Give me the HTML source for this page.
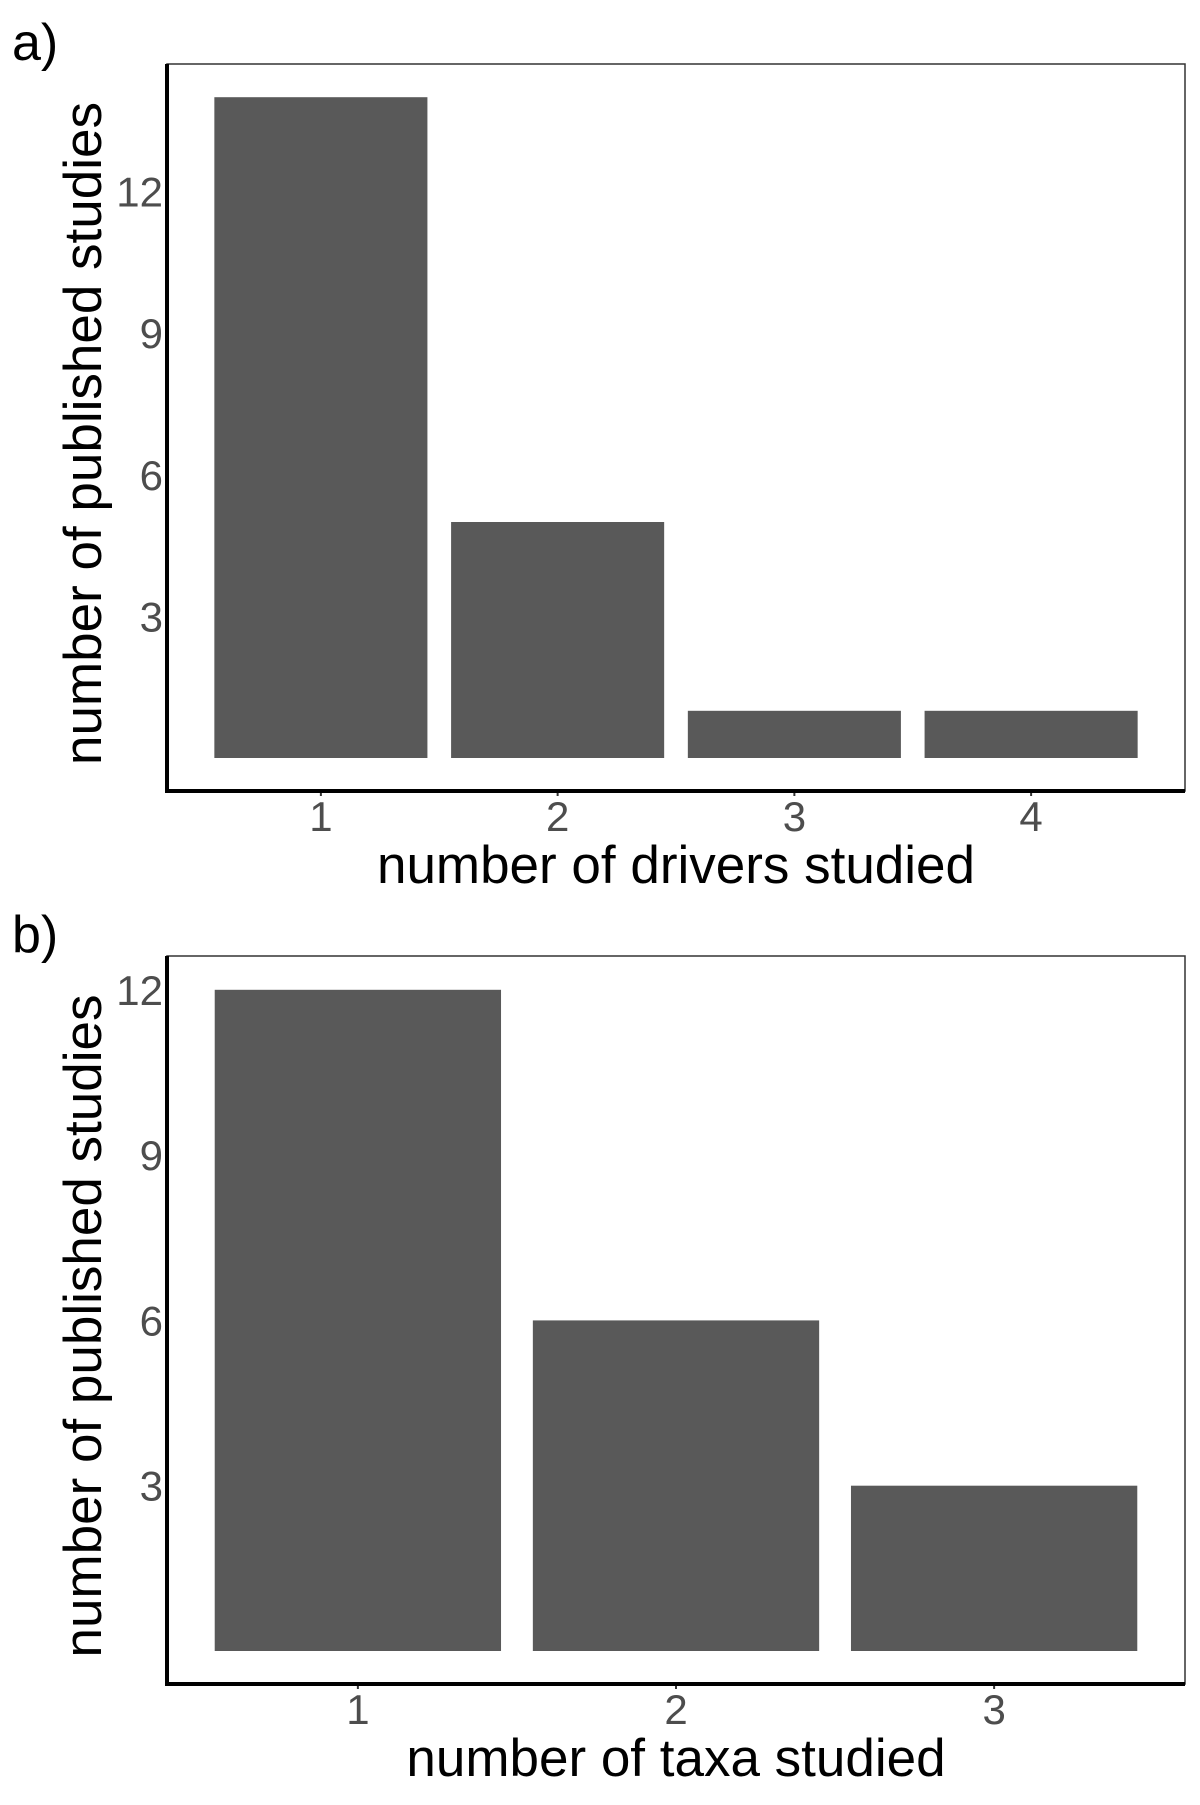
<!DOCTYPE html>
<html><head><meta charset="utf-8"><style>
html,body{margin:0;padding:0;background:#fff;}
svg text{font-family:"Liberation Sans",Arial,sans-serif;}
</style></head><body>
<svg id="chart" width="1200" height="1800" viewBox="0 0 1200 1800" xmlns="http://www.w3.org/2000/svg"></svg>
<script>
const catsA = ["1","2","3","4"];
const valsA = [14,5,1,1];
const catsB = ["1","2","3"];
const valsB = [12,6,3];
const yTicks = [3,6,9,12];
const NS="http://www.w3.org/2000/svg";
const svg=document.getElementById('chart');
function mk(tag,attrs,parent){const e=document.createElementNS(NS,tag);for(const k in attrs)e.setAttribute(k,attrs[k]);(parent||svg).appendChild(e);return e;}
function panel(opts){
  const g=mk('g',{});
  
  
  const L=167,R=1185,T=opts.top,B=opts.axisY;
  const base=opts.base, unit=opts.unit;
  const y=v=>base-v*unit;
  const n=opts.cats.length;
  const pad=opts.pad;
  const step=(R-L)/(n-1+2*pad);
  const x=i=>L+step*(pad+i);
  const border=mk('rect',{x:L,y:T,width:R-L,height:B-T,fill:'none',stroke:'#333',"stroke-width":1.5},g);
  
  
  yTicks.forEach(t=>{
    const tx=mk('text',{x:L-4,y:y(t)+15,"text-anchor":"end","font-size":42,fill:'#4d4d4d'},g);
    tx.textContent=t;
    
    
  });
  opts.vals.forEach((v,i)=>{
    const r=mk('rect',{x:x(i)-step*0.45,y:y(v),width:step*0.9,height:v*unit,fill:'#595959'},g);
    
    
    const tx=mk('text',{x:x(i),y:B+40,"text-anchor":"middle","font-size":42,fill:'#4d4d4d'},g);
    tx.textContent=opts.cats[i];
    
    
    mk('line',{x1:x(i),x2:x(i),y1:B,y2:B+5,stroke:'#333',"stroke-width":2},g);
  });
  const ya=mk('line',{x1:L,x2:L,y1:T,y2:B+2,stroke:'#000',"stroke-width":4},g);
  
  
  const xa=mk('line',{x1:L-2,x2:R,y1:B,y2:B,stroke:'#000',"stroke-width":4},g);
  
  
  const xt=mk('text',{x:(L+R)/2,y:B+92,"text-anchor":"middle","font-size":53,fill:'#000'},g);
  xt.textContent=opts.xTitle;
  
  
  const cy=(T+B)/2+6;
  const yt=mk('text',{x:0,y:0,"text-anchor":"middle","font-size":53,fill:'#000',transform:`translate(101,${cy}) rotate(-90)`},g);
  yt.textContent='number of published studies';
  
  
  const pl=mk('text',{x:12,y:T-4,"font-size":52,fill:'#000'},g);
  pl.textContent=opts.label;
  
  
}
panel({name:'panel-a',label:'a)',top:64,axisY:791,base:758,unit:47.2,pad:0.65,cats:catsA,vals:valsA,xTitle:'number of drivers studied'});
panel({name:'panel-b',label:'b)',top:956,axisY:1684,base:1651,unit:55.1,pad:0.6,cats:catsB,vals:valsB,xTitle:'number of taxa studied'});
</script>
</body></html>
